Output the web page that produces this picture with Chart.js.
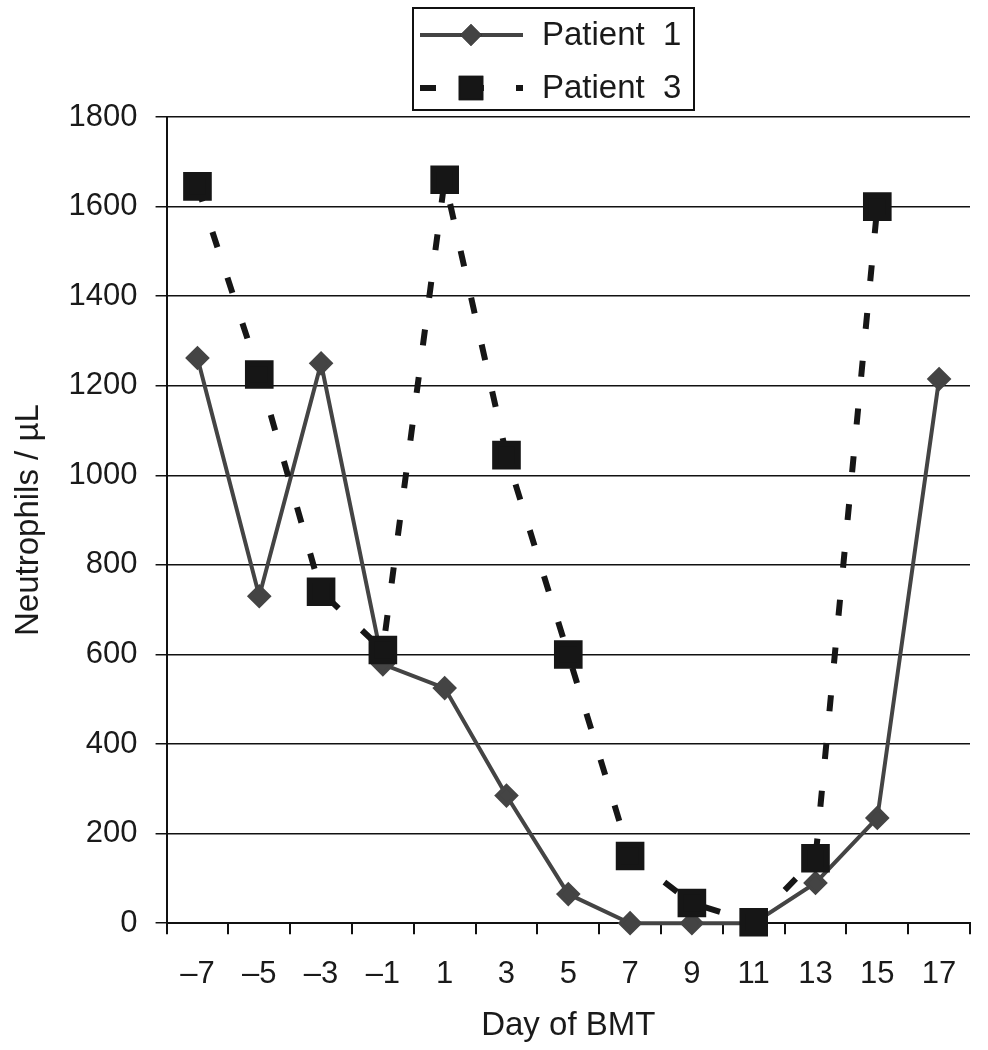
<!DOCTYPE html>
<html>
<head>
<meta charset="utf-8">
<script src="https://cdn.jsdelivr.net/npm/chart.js@4"></script>
<style>
  body { margin: 0; background: #fff; }
  #wrap { width: 988px; height: 1050px; }
</style>
</head>
<body>
<div id="wrap"><canvas id="chart"></canvas></div>
<script>
const days = ['\u20137', '\u20135', '\u20133', '\u20131', '1', '3', '5', '7', '9', '11', '13', '15', '17'];
const patient1 = [1262, 730, 1250, 578, 525, 285, 65, 0, 0, 0, 90, 235, 1215];
const patient3 = [1645, 1225, 740, 610, 1660, 1045, 600, 150, 45, 2, 145, 1600, null];
const yTicks = [0, 200, 400, 600, 800, 1000, 1200, 1400, 1600, 1800];

Chart.defaults.font.family = '"Liberation Sans", Arial, sans-serif';
Chart.defaults.font.size = 31;
Chart.defaults.color = '#1a1a1a';

// legend drawn by hand: line sample + marker + text, inside a framed box
const boxLegend = {
    id: 'boxLegend',
    afterDraw(chart) {
        const ctx = chart.ctx;
        const sets = chart.data.datasets;
        ctx.save();
        ctx.strokeStyle = '#111';
        ctx.lineWidth = 2;
        ctx.strokeRect(413, 8, 281, 102);
        const rows = [35, 88];
        [1, 0].forEach((di, i) => {
            const ds = sets[di];
            const y = rows[i];
            ctx.save();
            ctx.strokeStyle = ds.borderColor;
            ctx.lineWidth = ds.borderWidth;
            ctx.setLineDash(ds.borderDash || []);
            ctx.beginPath();
            ctx.moveTo(420, y);
            ctx.lineTo(523, y);
            ctx.stroke();
            ctx.restore();
            Chart.helpers.drawPoint(ctx, {
                pointStyle: ds.pointStyle,
                radius: ds.pointRadius,
                borderWidth: 1,
                rotation: 0
            }, 471, y);
            ctx.fillStyle = ds.pointBackgroundColor;
            ctx.strokeStyle = ds.pointBorderColor;
            ctx.fill();
            ctx.stroke();
            ctx.fillStyle = '#1a1a1a';
            ctx.font = '33px "Liberation Sans", Arial, sans-serif';
            ctx.textBaseline = 'middle';
            ctx.fillText(ds.label, 542, y + 1);
        });
        ctx.restore();
    }
};

new Chart(document.getElementById('chart'), {
    type: 'line',
    data: {
        labels: days,
        datasets: [{
            label: 'Patient  3',
            data: patient3,
            borderColor: '#161616',
            borderWidth: 6,
            borderDash: [16, 32],
            pointStyle: 'rect',
            pointRadius: 16,
            pointBackgroundColor: '#161616',
            pointBorderColor: '#161616',
            tension: 0,
            clip: false,
            order: 0
        }, {
            label: 'Patient  1',
            data: patient1,
            borderColor: '#444444',
            borderWidth: 4,
            pointStyle: 'rectRot',
            pointRadius: 9.5,
            pointBackgroundColor: '#444444',
            pointBorderColor: '#444444',
            tension: 0,
            clip: false,
            order: 1
        }]
    },
    options: {
        responsive: true,
        maintainAspectRatio: false,
        animation: false,
        layout: {
            autoPadding: false,
            padding: { top: 117, right: 0, bottom: 4, left: 0 }
        },
        plugins: {
            legend: { display: false },
            tooltip: { enabled: false }
        },
        scales: {
            x: {
                type: 'category',
                offset: true,
                afterFit: axis => {
                    axis.paddingLeft = 0;
                    axis.paddingRight = 18;
                },
                grid: {
                    offset: true,
                    drawOnChartArea: false,
                    color: '#111',
                    lineWidth: 2,
                    tickLength: 11
                },
                border: { color: '#111', width: 2 },
                ticks: { padding: 22 },
                title: {
                    display: true,
                    text: 'Day of BMT',
                    font: { size: 33 },
                    padding: { top: -9, bottom: 0 }
                }
            },
            y: {
                min: 0,
                max: 1800,
                afterBuildTicks: axis => {
                    axis.ticks = yTicks.map(v => ({ value: v }));
                },
                grid: {
                    color: '#111',
                    lineWidth: 1.5,
                    tickLength: 11
                },
                border: { color: '#111', width: 2 },
                ticks: {
                    padding: 18,
                    callback: v => String(v)
                },
                title: {
                    display: true,
                    text: 'Neutrophils / \u00b5L',
                    font: { size: 33 },
                    padding: { top: 9, bottom: 2 }
                }
            }
        }
    },
    plugins: [boxLegend]
});
</script>
</body>
</html>
